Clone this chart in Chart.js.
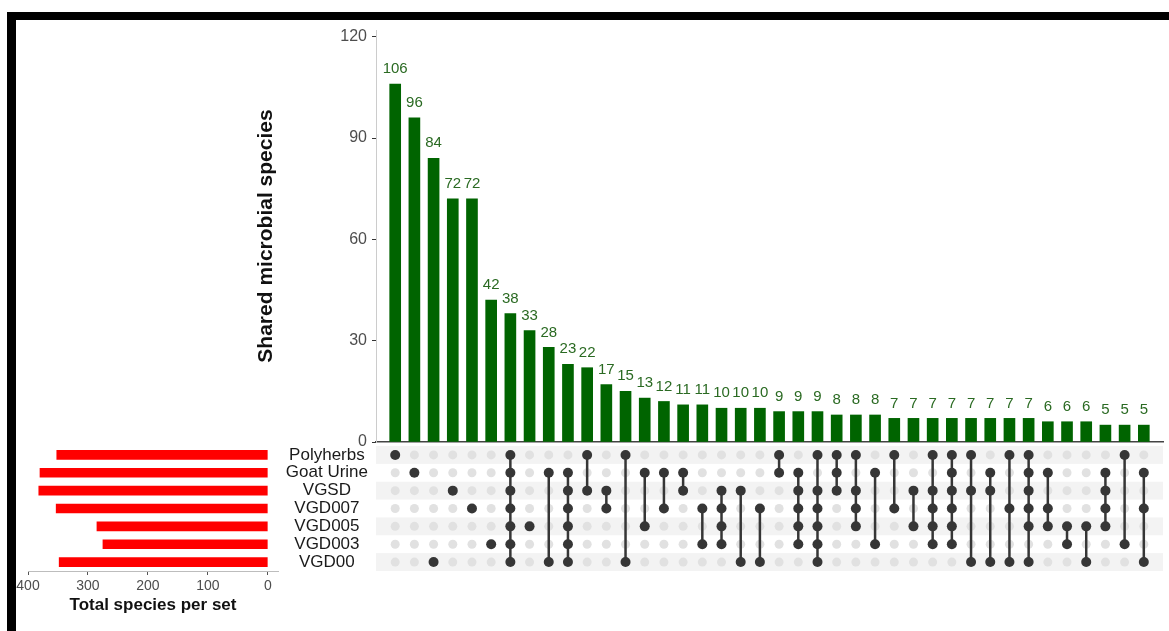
<!DOCTYPE html>
<html>
<head>
<meta charset="utf-8">
<title>Shared microbial species</title>
<script src="https://cdn.jsdelivr.net/npm/chart.js@4.4.1/dist/chart.umd.min.js"></script>
<style>
  html, body { margin: 0; padding: 0; background: #fff; }
  #stage { position: relative; width: 1169px; height: 631px; overflow: hidden; }
  #stage canvas { position: absolute; left: 0; top: 0; }
  .frame { position: absolute; background: #000; }
</style>
</head>
<body>
<div id="stage">
  <canvas id="setSizeChart" width="1169" height="631"></canvas>
  <canvas id="matrixChart" width="1169" height="631"></canvas>
  <canvas id="intersectChart" width="1169" height="631"></canvas>
  <div class="frame" style="left:7px;top:12px;width:1162px;height:8px"></div>
  <div class="frame" style="left:7px;top:12px;width:9px;height:619px"></div>
</div>
<script>
// sets, in matrix row order (top to bottom)
const setNames = ['Polyherbs', 'Goat Urine', 'VGSD', 'VGD007', 'VGD005', 'VGD003', 'VGD00'];
const setSizes = [352, 380, 382, 353, 285, 275, 348];

// intersection sizes, sorted descending
const intersectionSizes = [
  106, 96, 84, 72, 72, 42, 38, 33, 28, 23,
  22, 17, 15, 13, 12, 11, 11, 10, 10, 10,
  9, 9, 9, 8, 8, 8, 7, 7, 7, 7,
  7, 7, 7, 7, 6, 6, 6, 5, 5, 5
];

// which sets make up each intersection column
const memberships = [
  ['Polyherbs'],
  ['Goat Urine'],
  ['VGD00'],
  ['VGSD'],
  ['VGD007'],
  ['VGD003'],
  ['Polyherbs', 'Goat Urine', 'VGSD', 'VGD007', 'VGD005', 'VGD003', 'VGD00'],
  ['VGD005'],
  ['Goat Urine', 'VGD00'],
  ['Goat Urine', 'VGSD', 'VGD007', 'VGD005', 'VGD003', 'VGD00'],
  ['Polyherbs', 'VGSD'],
  ['VGSD', 'VGD007'],
  ['Polyherbs', 'VGD00'],
  ['Goat Urine', 'VGD005'],
  ['Goat Urine', 'VGD007'],
  ['Goat Urine', 'VGSD'],
  ['VGD007', 'VGD003'],
  ['VGSD', 'VGD007', 'VGD005', 'VGD003'],
  ['VGSD', 'VGD00'],
  ['VGD007', 'VGD00'],
  ['Polyherbs', 'Goat Urine'],
  ['Goat Urine', 'VGSD', 'VGD007', 'VGD005', 'VGD003'],
  ['Polyherbs', 'VGSD', 'VGD007', 'VGD005', 'VGD003', 'VGD00'],
  ['Polyherbs', 'Goat Urine', 'VGSD'],
  ['Polyherbs', 'VGSD', 'VGD007', 'VGD005'],
  ['Goat Urine', 'VGD003'],
  ['Polyherbs', 'VGD007'],
  ['VGSD', 'VGD005'],
  ['Polyherbs', 'VGSD', 'VGD007', 'VGD005', 'VGD003'],
  ['Polyherbs', 'Goat Urine', 'VGSD', 'VGD007', 'VGD005', 'VGD003'],
  ['Polyherbs', 'VGSD', 'VGD00'],
  ['Goat Urine', 'VGSD', 'VGD00'],
  ['Polyherbs', 'VGD007', 'VGD00'],
  ['Polyherbs', 'Goat Urine', 'VGSD', 'VGD007', 'VGD005', 'VGD00'],
  ['Goat Urine', 'VGD007', 'VGD005'],
  ['VGD005', 'VGD003'],
  ['VGD005', 'VGD00'],
  ['Goat Urine', 'VGSD', 'VGD007', 'VGD005'],
  ['Polyherbs', 'VGD003'],
  ['Goat Urine', 'VGD007', 'VGD00']
];

const intersectTicks = [0, 30, 60, 90, 120];
const setSizeTicks = [0, 100, 200, 300, 400];

const FONT = "'Liberation Sans', Arial, Helvetica, sans-serif";
const W = 1169;
const H = 631;
const PLOT_LEFT = 376;
const PLOT_RIGHT = 1163;
const LABEL_LEFT = 240;

const colors = {
  bar: '#006400',
  barText: '#2a6a22',
  setBar: '#ff0000',
  dot: '#363636',
  emptyDot: '#e1e1e1',
  stripe: '#f3f3f3',
  tickText: '#4d4d4d',
  tickMark: '#333333',
  title: '#111111'
};

Chart.defaults.font.family = FONT;
Chart.defaults.animation = false;
Chart.defaults.responsive = false;
Chart.defaults.plugins.legend.display = false;
Chart.defaults.plugins.tooltip.enabled = false;

// value labels above the intersection bars
const barLabels = {
  id: 'barLabels',
  afterDatasetsDraw(chart) {
    const { ctx } = chart;
    const meta = chart.getDatasetMeta(0);
    ctx.save();
    ctx.fillStyle = colors.barText;
    ctx.font = `15px ${FONT}`;
    ctx.textAlign = 'center';
    ctx.textBaseline = 'middle';
    meta.data.forEach((bar, i) => {
      ctx.fillText(String(intersectionSizes[i]), bar.x, bar.y - 15);
    });
    ctx.restore();
  }
};

// alternating row bands behind the matrix
const rowStripes = {
  id: 'rowStripes',
  beforeDatasetsDraw(chart) {
    const { ctx, chartArea, scales: { y } } = chart;
    const band = y.getPixelForValue(1) - y.getPixelForValue(0);
    ctx.save();
    ctx.fillStyle = colors.stripe;
    setNames.forEach((name, i) => {
      if (i % 2) return;
      const cy = y.getPixelForValue(i);
      ctx.fillRect(chartArea.left, cy - band / 2, chartArea.right - chartArea.left, band);
    });
    ctx.restore();
  }
};

function buildIntersectChart() {
  new Chart(document.getElementById('intersectChart'), {
    type: 'bar',
    data: {
      datasets: [{
        data: intersectionSizes.map((v, i) => ({ x: i + 1, y: v })),
        backgroundColor: colors.bar,
        barThickness: 11
      }]
    },
    options: {
      layout: { padding: { left: LABEL_LEFT, right: W - PLOT_RIGHT, top: 30, bottom: H - 442 } },
      scales: {
        x: {
          type: 'linear',
          min: 0,
          max: memberships.length + 1,
          offset: false,
          ticks: { display: false },
          grid: { display: false, drawTicks: false },
          border: { color: '#444', width: 1.5 },
          afterFit: s => { s.height = 0; }
        },
        y: {
          min: 0,
          max: 122,
          afterBuildTicks: s => { s.ticks = intersectTicks.map(v => ({ value: v })); },
          ticks: { color: colors.tickText, font: { size: 16 }, padding: 5 },
          grid: { drawOnChartArea: false, tickLength: 4, color: colors.tickMark },
          border: { color: '#cccccc' },
          title: {
            display: true,
            text: 'Shared microbial species',
            color: colors.title,
            font: { size: 21, weight: 'bold' },
            padding: { top: 14 }
          },
          afterFit: s => { s.width = PLOT_LEFT - LABEL_LEFT; }
        }
      }
    },
    plugins: [barLabels]
  });
}

function cellPoints(filled) {
  const pts = [];
  memberships.forEach((sets, i) => {
    setNames.forEach(name => {
      if (sets.includes(name) === filled) pts.push({ x: i + 1, y: name });
    });
  });
  return pts;
}

function connectorDatasets() {
  return memberships
    .map((sets, i) => ({ sets, col: i + 1 }))
    .filter(({ sets }) => sets.length > 1)
    .map(({ sets, col }) => {
      const rows = sets.map(s => setNames.indexOf(s));
      return {
        type: 'line',
        showLine: true,
        data: [
          { x: col, y: setNames[Math.min(...rows)] },
          { x: col, y: setNames[Math.max(...rows)] }
        ],
        borderColor: colors.dot,
        borderWidth: 2.5,
        pointRadius: 0,
        order: 1
      };
    });
}

function buildMatrixChart() {
  new Chart(document.getElementById('matrixChart'), {
    type: 'scatter',
    data: {
      datasets: [
        { data: cellPoints(true), pointRadius: 5, backgroundColor: colors.dot, borderWidth: 0, order: 0 },
        ...connectorDatasets(),
        { data: cellPoints(false), pointRadius: 4.5, backgroundColor: colors.emptyDot, borderWidth: 0, order: 2 }
      ]
    },
    options: {
      layout: { padding: { left: LABEL_LEFT, right: W - PLOT_RIGHT, top: 446, bottom: H - 571 } },
      scales: {
        x: { type: 'linear', min: 0, max: memberships.length + 1, display: false },
        y: {
          type: 'category',
          labels: setNames,
          offset: true,
          ticks: {
            color: '#1a1a1a',
            font: { size: 17 },
            crossAlign: 'center',
            padding: 8,
            autoSkip: false
          },
          grid: { display: false, drawTicks: false },
          border: { display: false },
          afterFit: s => { s.width = PLOT_LEFT - LABEL_LEFT; }
        }
      }
    },
    plugins: [rowStripes]
  });
}

function buildSetSizeChart() {
  new Chart(document.getElementById('setSizeChart'), {
    type: 'bar',
    data: {
      labels: setNames,
      datasets: [{ data: setSizes, backgroundColor: colors.setBar, barThickness: 9 }]
    },
    options: {
      indexAxis: 'y',
      layout: { padding: { left: 28, right: W - 278, top: 446, bottom: 0 } },
      scales: {
        x: {
          min: -17,
          max: 400,
          reverse: true,
          afterBuildTicks: s => { s.ticks = setSizeTicks.map(v => ({ value: v })); },
          ticks: { color: colors.tickText, font: { size: 14 }, padding: 3, maxRotation: 0 },
          grid: { drawOnChartArea: false, tickLength: 4, color: '#555' },
          border: { color: '#bdbdbd' },
          title: {
            display: true,
            text: 'Total species per set',
            color: colors.title,
            font: { size: 17, weight: 'bold' },
            padding: { top: 0, bottom: 15 }
          },
          afterFit: s => { s.height = 60; }
        },
        y: { display: false, offset: true }
      }
    }
  });
}

buildSetSizeChart();
buildMatrixChart();
buildIntersectChart();
</script>
</body>
</html>
